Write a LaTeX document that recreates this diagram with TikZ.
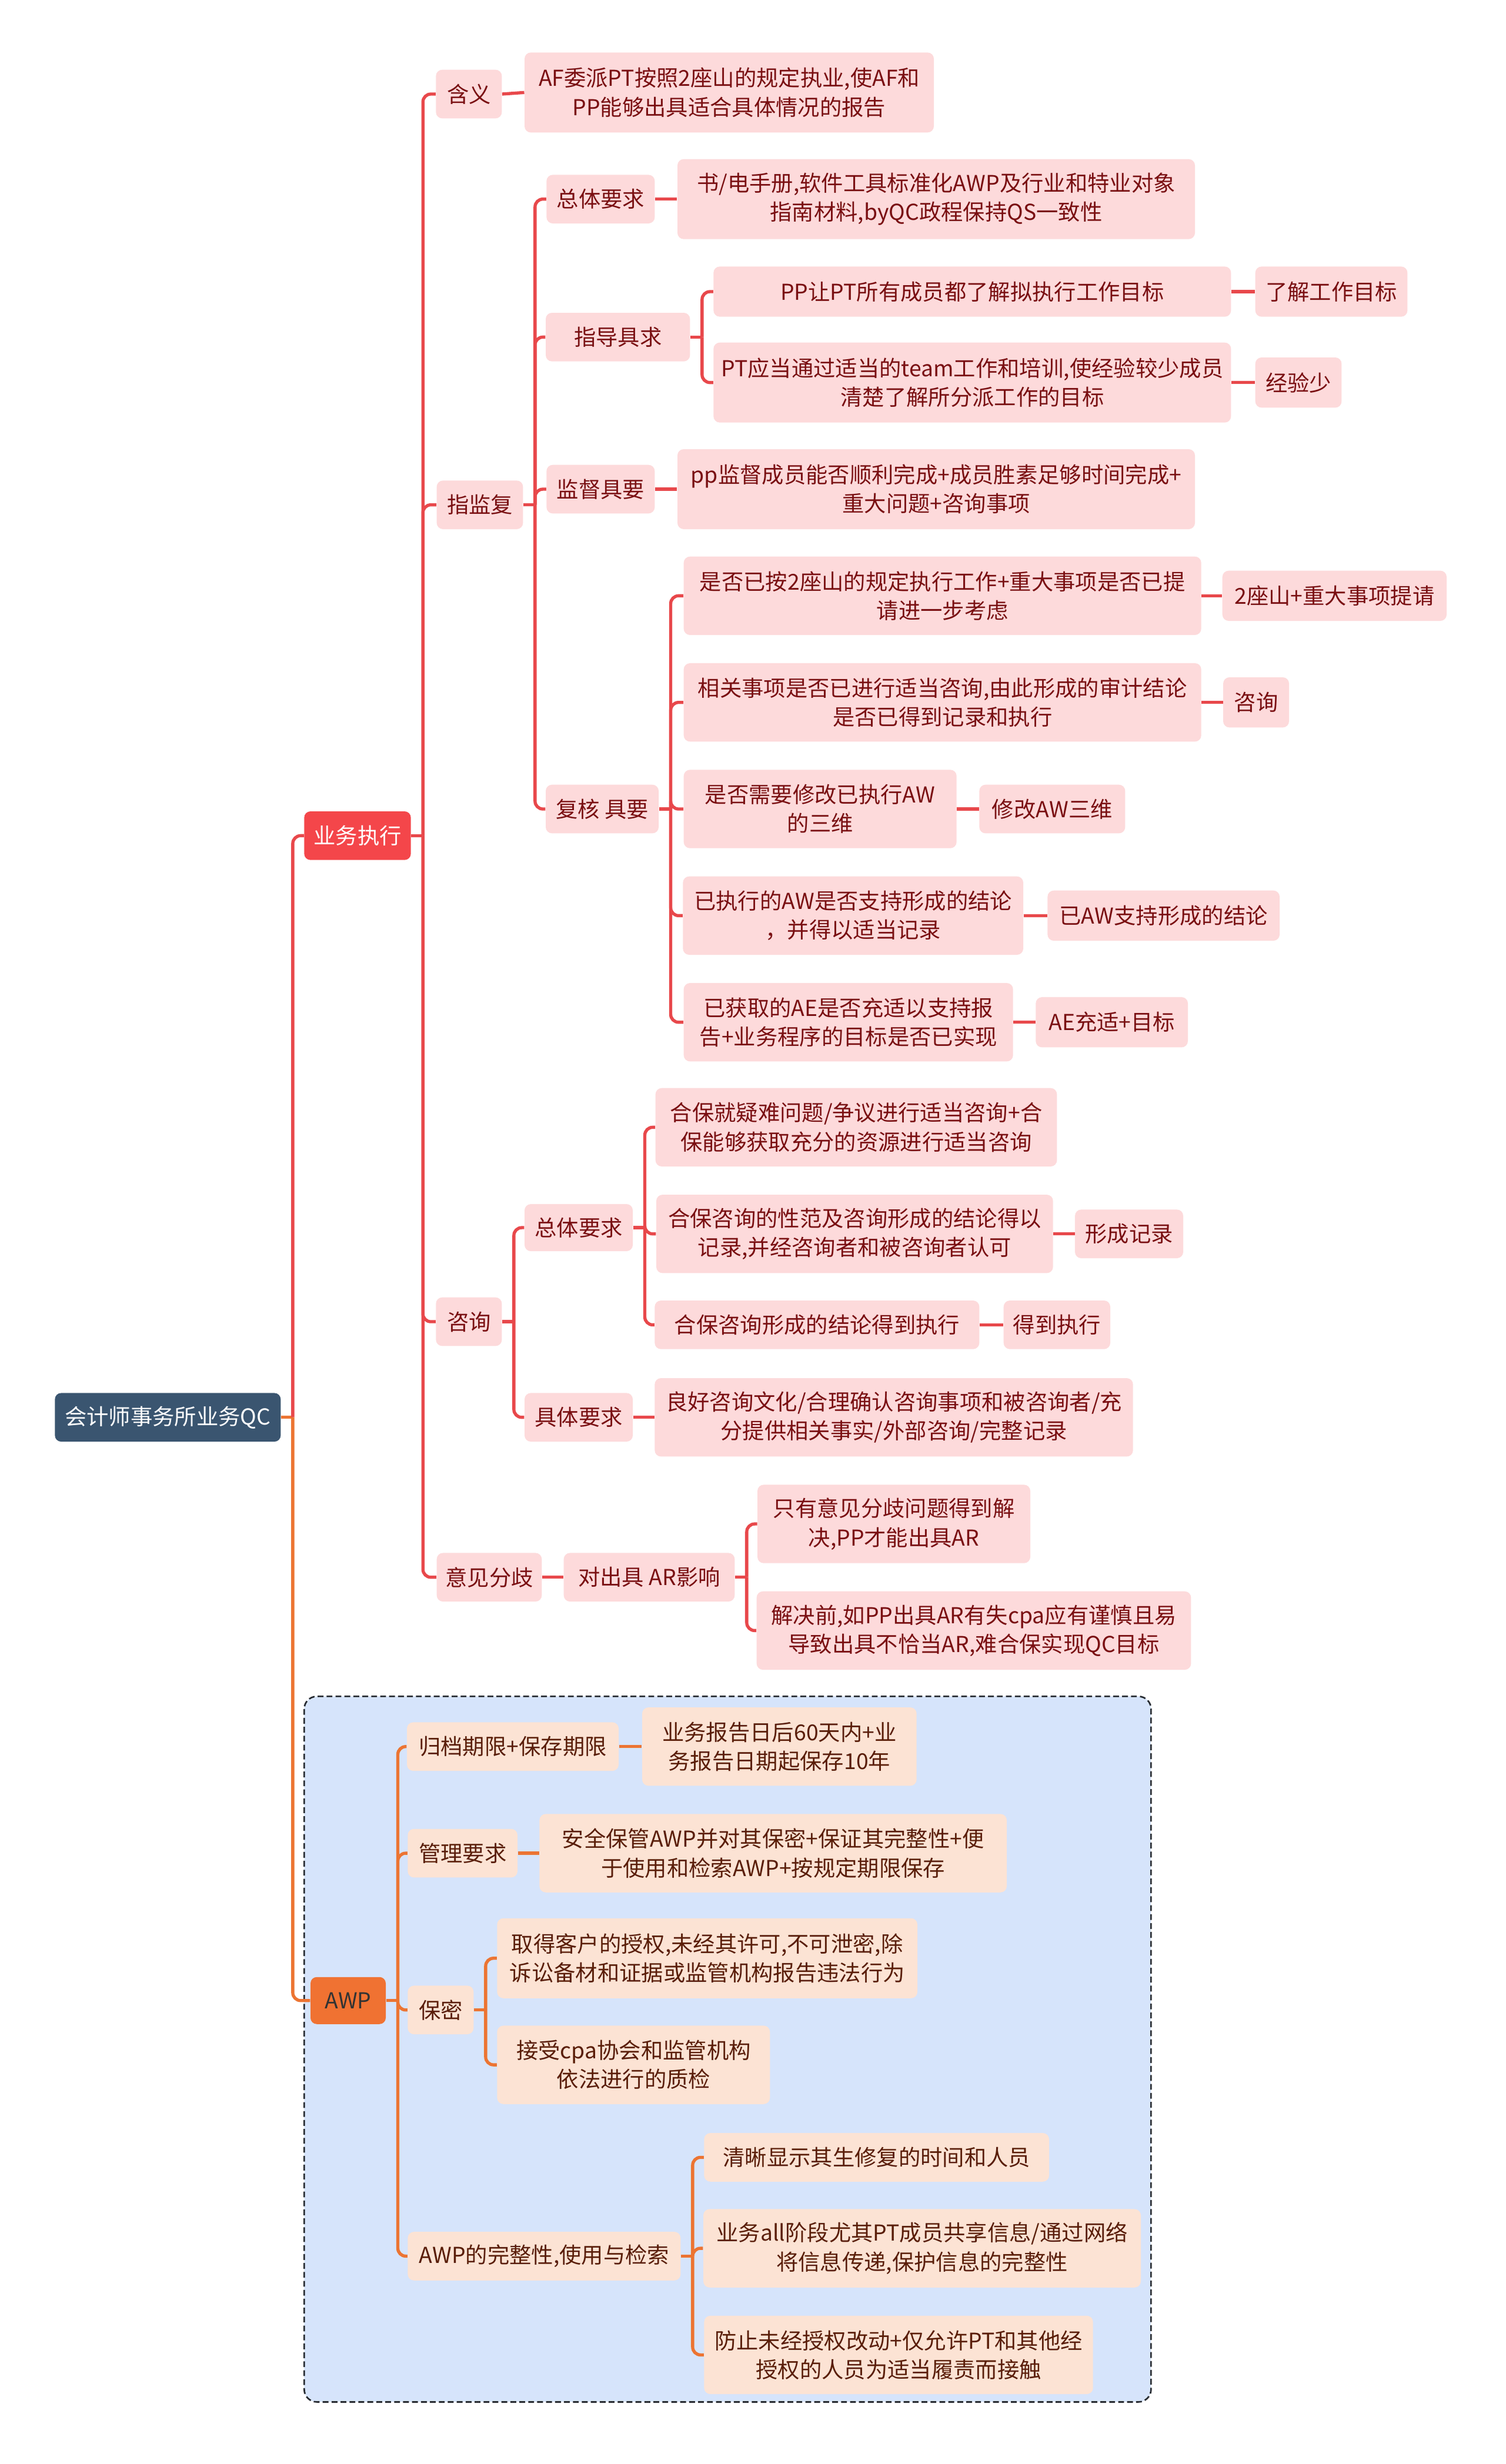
\documentclass[tikz,border=0pt]{standalone}
\usepackage{fontspec}
\setmainfont{Noto Sans CJK SC}
\definecolor{rootfill}{HTML}{3A5570}
\definecolor{ywfill}{HTML}{F4464A}
\definecolor{awpfill}{HTML}{F07232}
\definecolor{rfill}{HTML}{FDDADB}
\definecolor{rtext}{HTML}{7A0F12}
\definecolor{rline}{HTML}{E8484B}
\definecolor{ofill}{HTML}{FCE3D4}
\definecolor{otext}{HTML}{5A1E08}
\definecolor{oline}{HTML}{EC7432}
\definecolor{grpfill}{HTML}{D6E4FB}
\definecolor{grpline}{HTML}{262A30}
\newcommand\mmbus[2]{\draw[#1] (#2.east) -- ++(7.5,0) coordinate (#2-b);}
\newcommand\mmkid[3]{\draw[#1] (#2-b) |- (#3.west);}
\newcommand\mmone[3]{\draw[#1] (#2.east) -- (#3.west);}
\begin{document}
\begin{tikzpicture}[x=1pt,y=-1pt,
  box/.style={rounded corners=4pt, inner sep=0pt, align=center, font=\fontsize{14pt}{18.5pt}\selectfont},
  rn/.style={box, fill=rfill, text=rtext},
  on/.style={box, fill=ofill, text=otext},
  rl/.style={draw=rline, line width=2pt, rounded corners=5pt},
  ol/.style={draw=oline, line width=2pt, rounded corners=5pt}]
\useasboundingbox (0,0) rectangle (960,1571.6);
\fill[white] (0,0) rectangle (960,1571.6);
% group box
\draw[grpline, fill=grpfill, line width=1pt, dash pattern=on 3.7pt off 2pt, rounded corners=8pt] (194,1082) rectangle (734,1532);
% root and level 1
\node[box, fill=rootfill, text=white, minimum width=144pt, minimum height=31pt] (root) at (107,904) {会计师事务所业务QC};
\node[box, fill=ywfill, text=white, minimum width=68pt, minimum height=31pt] (yw) at (228,533) {业务执行};
\node[box, fill=awpfill, text=black!80, minimum width=48pt, minimum height=30pt] (awp) at (222,1276) {AWP};
% red branch
\node[rn, minimum width=42pt, minimum height=31pt] (hy) at (299,60) {含义};
\node[rn, minimum width=261pt, minimum height=51pt] (hyd) at (465,59) {AF委派PT按照2座山的规定执业,使AF和\\PP能够出具适合具体情况的报告};
\node[rn, minimum width=55pt, minimum height=31pt] (zjf) at (306,322) {指监复};
\node[rn, minimum width=69pt, minimum height=31pt] (zt1) at (383,127) {总体要求};
\node[rn, minimum width=330pt, minimum height=51pt] (zt1d) at (597,127) {书/电手册,软件工具标准化AWP及行业和特业对象\\指南材料,byQC政程保持QS一致性};
\node[rn, minimum width=92pt, minimum height=31pt] (zd) at (394,215) {指导具求};
\node[rn, minimum width=330pt, minimum height=32pt] (zd1) at (620,186) {PP让PT所有成员都了解拟执行工作目标};
\node[rn, minimum width=97pt, minimum height=32pt] (zd1a) at (849,186) {了解工作目标};
\node[rn, minimum width=330pt, minimum height=51pt] (zd2) at (620,244) {PT应当通过适当的team工作和培训,使经验较少成员\\清楚了解所分派工作的目标};
\node[rn, minimum width=55pt, minimum height=32pt] (zd2a) at (828,244) {经验少};
\node[rn, minimum width=69pt, minimum height=31pt] (jd) at (383,312) {监督具要};
\node[rn, minimum width=330pt, minimum height=51pt] (jdd) at (597,312) {pp监督成员能否顺利完成+成员胜素足够时间完成+\\重大问题+咨询事项};
\node[rn, minimum width=72pt, minimum height=31pt] (fh) at (384,516) {复核 具要};
\node[rn, minimum width=330pt, minimum height=50pt] (fh1) at (601,380) {是否已按2座山的规定执行工作+重大事项是否已提\\请进一步考虑};
\node[rn, minimum width=143pt, minimum height=32pt] (fh1a) at (851,380) {2座山+重大事项提请};
\node[rn, minimum width=330pt, minimum height=50pt] (fh2) at (601,448) {相关事项是否已进行适当咨询,由此形成的审计结论\\是否已得到记录和执行};
\node[rn, minimum width=42pt, minimum height=32pt] (fh2a) at (801,448) {咨询};
\node[rn, minimum width=174pt, minimum height=50pt] (fh3) at (523,516) {是否需要修改已执行AW\\的三维};
\node[rn, minimum width=93pt, minimum height=31pt] (fh3a) at (671,516) {修改AW三维};
\node[rn, minimum width=217pt, minimum height=50pt] (fh4) at (544,584) {已执行的AW是否支持形成的结论\\，并得以适当记录};
\node[rn, minimum width=148pt, minimum height=32pt] (fh4a) at (742,584) {已AW支持形成的结论};
\node[rn, minimum width=210pt, minimum height=50pt] (fh5) at (541,652) {已获取的AE是否充适以支持报\\告+业务程序的目标是否已实现};
\node[rn, minimum width=97pt, minimum height=32pt] (fh5a) at (709,652) {AE充适+目标};
\node[rn, minimum width=42pt, minimum height=31pt] (zx) at (299,843) {咨询};
\node[rn, minimum width=69pt, minimum height=30pt] (zx1) at (369,783) {总体要求};
\node[rn, minimum width=256pt, minimum height=50pt] (zx1a) at (546,719) {合保就疑难问题/争议进行适当咨询+合\\保能够获取充分的资源进行适当咨询};
\node[rn, minimum width=253pt, minimum height=50pt] (zx1b) at (545,787) {合保咨询的性范及咨询形成的结论得以\\记录,并经咨询者和被咨询者认可};
\node[rn, minimum width=69pt, minimum height=31pt] (zx1ba) at (720,787) {形成记录};
\node[rn, minimum width=207pt, minimum height=31pt] (zx1c) at (521,845) {合保咨询形成的结论得到执行};
\node[rn, minimum width=68pt, minimum height=31pt] (zx1ca) at (674,845) {得到执行};
\node[rn, minimum width=69pt, minimum height=31pt] (zx2) at (369,904) {具体要求};
\node[rn, minimum width=305pt, minimum height=50pt] (zx2a) at (570,904) {良好咨询文化/合理确认咨询事项和被咨询者/充\\分提供相关事实/外部咨询/完整记录};
\node[rn, minimum width=67pt, minimum height=31pt] (yj) at (312,1006) {意见分歧};
\node[rn, minimum width=109pt, minimum height=31pt] (yj1) at (414,1006) {对出具 AR影响};
\node[rn, minimum width=174pt, minimum height=50pt] (yj1a) at (570,972) {只有意见分歧问题得到解\\决,PP才能出具AR};
\node[rn, minimum width=277pt, minimum height=50pt] (yj1b) at (621,1040) {解决前,如PP出具AR有失cpa应有谨慎且易\\导致出具不恰当AR,难合保实现QC目标};
% orange branch
\node[on, minimum width=135pt, minimum height=31pt] (gd) at (327,1114) {归档期限+保存期限};
\node[on, minimum width=175pt, minimum height=50pt] (gdd) at (497,1114) {业务报告日后60天内+业\\务报告日期起保存10年};
\node[on, minimum width=70pt, minimum height=31pt] (gl) at (295,1182) {管理要求};
\node[on, minimum width=298pt, minimum height=50pt] (gld) at (493,1182) {安全保管AWP并对其保密+保证其完整性+便\\于使用和检索AWP+按规定期限保存};
\node[on, minimum width=42pt, minimum height=31pt] (bm) at (281,1282) {保密};
\node[on, minimum width=268pt, minimum height=51pt] (bm1) at (451,1249) {取得客户的授权,未经其许可,不可泄密,除\\诉讼备材和证据或监管机构报告违法行为};
\node[on, minimum width=174pt, minimum height=50pt] (bm2) at (404,1317) {接受cpa协会和监管机构\\依法进行的质检};
\node[on, minimum width=174pt, minimum height=31pt] (wz) at (347,1439) {AWP的完整性,使用与检索};
\node[on, minimum width=220pt, minimum height=31pt] (wz1) at (559,1376) {清晰显示其生修复的时间和人员};
\node[on, minimum width=279pt, minimum height=50pt] (wz2) at (588,1434) {业务all阶段尤其PT成员共享信息/通过网络\\将信息传递,保护信息的完整性};
\node[on, minimum width=248pt, minimum height=50pt] (wz3) at (573,1502) {防止未经授权改动+仅允许PT和其他经\\授权的人员为适当履责而接触};
% connectors: root
\mmbus{ol}{root}
\mmkid{rl}{root}{yw}
\mmkid{ol}{root}{awp}
% 业务执行
\mmbus{rl}{yw}
\mmkid{rl}{yw}{hy}
\mmkid{rl}{yw}{zjf}
\mmkid{rl}{yw}{zx}
\mmkid{rl}{yw}{yj}
\mmone{rl}{hy}{hyd}
% 指监复
\mmbus{rl}{zjf}
\mmkid{rl}{zjf}{zt1}
\mmkid{rl}{zjf}{zd}
\mmkid{rl}{zjf}{jd}
\mmkid{rl}{zjf}{fh}
\mmone{rl}{zt1}{zt1d}
\mmbus{rl}{zd}
\mmkid{rl}{zd}{zd1}
\mmkid{rl}{zd}{zd2}
\mmone{rl}{zd1}{zd1a}
\mmone{rl}{zd2}{zd2a}
\mmone{rl}{jd}{jdd}
\mmbus{rl}{fh}
\mmkid{rl}{fh}{fh1}
\mmkid{rl}{fh}{fh2}
\mmkid{rl}{fh}{fh3}
\mmkid{rl}{fh}{fh4}
\mmkid{rl}{fh}{fh5}
\mmone{rl}{fh1}{fh1a}
\mmone{rl}{fh2}{fh2a}
\mmone{rl}{fh3}{fh3a}
\mmone{rl}{fh4}{fh4a}
\mmone{rl}{fh5}{fh5a}
% 咨询
\mmbus{rl}{zx}
\mmkid{rl}{zx}{zx1}
\mmkid{rl}{zx}{zx2}
\mmbus{rl}{zx1}
\mmkid{rl}{zx1}{zx1a}
\mmkid{rl}{zx1}{zx1b}
\mmkid{rl}{zx1}{zx1c}
\mmone{rl}{zx1b}{zx1ba}
\mmone{rl}{zx1c}{zx1ca}
\mmone{rl}{zx2}{zx2a}
% 意见分歧
\mmone{rl}{yj}{yj1}
\mmbus{rl}{yj1}
\mmkid{rl}{yj1}{yj1a}
\mmkid{rl}{yj1}{yj1b}
% AWP
\mmbus{ol}{awp}
\mmkid{ol}{awp}{gd}
\mmkid{ol}{awp}{gl}
\mmkid{ol}{awp}{bm}
\mmkid{ol}{awp}{wz}
\mmone{ol}{gd}{gdd}
\mmone{ol}{gl}{gld}
\mmbus{ol}{bm}
\mmkid{ol}{bm}{bm1}
\mmkid{ol}{bm}{bm2}
\mmbus{ol}{wz}
\mmkid{ol}{wz}{wz1}
\mmkid{ol}{wz}{wz2}
\mmkid{ol}{wz}{wz3}
\end{tikzpicture}
\end{document}
